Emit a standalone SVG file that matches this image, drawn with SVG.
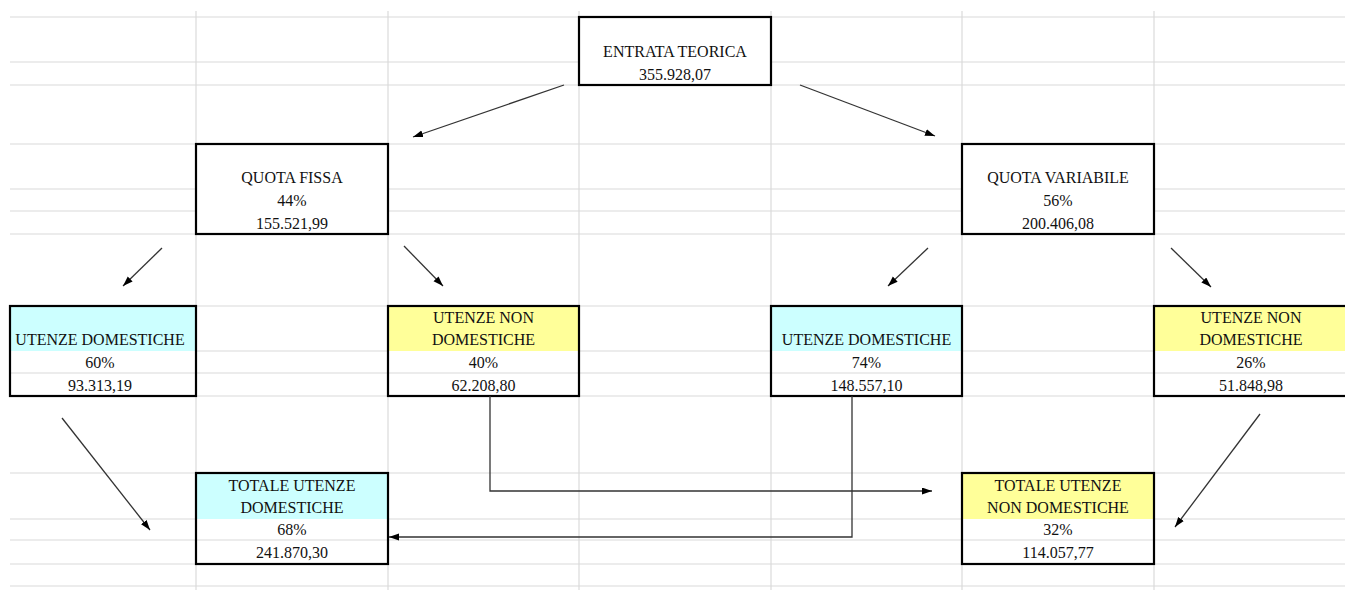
<svg xmlns="http://www.w3.org/2000/svg" width="1345" height="590" viewBox="0 0 1345 590">
<style>
.grid line{stroke:#dadada;stroke-width:1.2}
.box{fill:#fff;stroke:#000;stroke-width:2.2}
.frame{fill:none;stroke:#000;stroke-width:2.2}
.cy{fill:#ccffff}
.ye{fill:#ffff99}
.inner{stroke:#dadada;stroke-width:1.2}
text{font-family:"Liberation Serif","Times New Roman",serif;font-size:16px;fill:#111;text-anchor:middle}
.conn line,.conn path{stroke:#333;stroke-width:1.3;fill:none}
</style>
<defs>
<marker id="ah" markerUnits="userSpaceOnUse" markerWidth="11" markerHeight="8" refX="10" refY="3.5" orient="auto">
<path d="M0,0 L10,3.5 L0,7 z" fill="#000"/>
</marker>
</defs>
<rect width="1345" height="590" fill="#fff"/>
<g class="grid">
<line x1="196" y1="11" x2="196" y2="590"/>
<line x1="388" y1="11" x2="388" y2="590"/>
<line x1="579" y1="11" x2="579" y2="590"/>
<line x1="771" y1="11" x2="771" y2="590"/>
<line x1="962" y1="11" x2="962" y2="590"/>
<line x1="1154" y1="11" x2="1154" y2="590"/>
<line x1="10" y1="17" x2="1345" y2="17"/>
<line x1="10" y1="62" x2="1345" y2="62"/>
<line x1="10" y1="85" x2="1345" y2="85"/>
<line x1="10" y1="144" x2="1345" y2="144"/>
<line x1="10" y1="189" x2="1345" y2="189"/>
<line x1="10" y1="211" x2="1345" y2="211"/>
<line x1="10" y1="234" x2="1345" y2="234"/>
<line x1="10" y1="306" x2="1345" y2="306"/>
<line x1="10" y1="351" x2="1345" y2="351"/>
<line x1="10" y1="373" x2="1345" y2="373"/>
<line x1="10" y1="396" x2="1345" y2="396"/>
<line x1="10" y1="473" x2="1345" y2="473"/>
<line x1="10" y1="519" x2="1345" y2="519"/>
<line x1="10" y1="540" x2="1345" y2="540"/>
<line x1="10" y1="564" x2="1345" y2="564"/>
<line x1="10" y1="586" x2="1345" y2="586"/>
</g>
<g id="entrata">
<rect class="box" x="579" y="17" width="192" height="68"/>
<text x="675" y="57">ENTRATA TEORICA</text>
<text x="675" y="80">355.928,07</text>
</g>
<g id="quota-fissa">
<rect class="box" x="196" y="144" width="192" height="90"/>
<text x="292" y="183">QUOTA FISSA</text>
<text x="292" y="206">44%</text>
<text x="292" y="229">155.521,99</text>
</g>
<g id="quota-variabile">
<rect class="box" x="962" y="144" width="192" height="90"/>
<text x="1058" y="183">QUOTA VARIABILE</text>
<text x="1058" y="206">56%</text>
<text x="1058" y="229">200.406,08</text>
</g>
<g id="ud-fissa">
<rect x="10" y="306" width="186" height="90" fill="#fff"/>
<rect class="cy" x="10" y="306" width="186" height="45"/>
<line class="inner" x1="10" y1="373" x2="196" y2="373"/>
<rect class="frame" x="10" y="306" width="186" height="90"/>
<text x="100" y="345">UTENZE DOMESTICHE</text>
<text x="100" y="368">60%</text>
<text x="100" y="391">93.313,19</text>
</g>
<g id="und-fissa">
<rect x="388" y="306" width="191" height="90" fill="#fff"/>
<rect class="ye" x="388" y="306" width="191" height="45"/>
<line class="inner" x1="388" y1="373" x2="579" y2="373"/>
<rect class="frame" x="388" y="306" width="191" height="90"/>
<text x="483.5" y="323">UTENZE NON</text>
<text x="483.5" y="345">DOMESTICHE</text>
<text x="483.5" y="368">40%</text>
<text x="483.5" y="391">62.208,80</text>
</g>
<g id="ud-variabile">
<rect x="771" y="306" width="191" height="90" fill="#fff"/>
<rect class="cy" x="771" y="306" width="191" height="45"/>
<line class="inner" x1="771" y1="373" x2="962" y2="373"/>
<rect class="frame" x="771" y="306" width="191" height="90"/>
<text x="866.5" y="345">UTENZE DOMESTICHE</text>
<text x="866.5" y="368">74%</text>
<text x="866.5" y="391">148.557,10</text>
</g>
<g id="und-variabile">
<rect x="1154" y="306" width="193" height="90" fill="#fff"/>
<rect class="ye" x="1154" y="306" width="193" height="45"/>
<line class="inner" x1="1154" y1="373" x2="1347" y2="373"/>
<rect class="frame" x="1154" y="306" width="193" height="90"/>
<text x="1251" y="323">UTENZE NON</text>
<text x="1251" y="345">DOMESTICHE</text>
<text x="1251" y="368">26%</text>
<text x="1251" y="391">51.848,98</text>
</g>
<g id="totale-ud">
<rect x="196" y="473" width="192" height="91" fill="#fff"/>
<rect class="cy" x="196" y="473" width="192" height="46"/>
<line class="inner" x1="196" y1="540" x2="388" y2="540"/>
<rect class="frame" x="196" y="473" width="192" height="91"/>
<text x="292" y="491">TOTALE UTENZE</text>
<text x="292" y="513">DOMESTICHE</text>
<text x="292" y="535">68%</text>
<text x="292" y="558">241.870,30</text>
</g>
<g id="totale-und">
<rect x="962" y="473" width="192" height="91" fill="#fff"/>
<rect class="ye" x="962" y="473" width="192" height="46"/>
<line class="inner" x1="962" y1="540" x2="1154" y2="540"/>
<rect class="frame" x="962" y="473" width="192" height="91"/>
<text x="1058" y="491">TOTALE UTENZE</text>
<text x="1058" y="513">NON DOMESTICHE</text>
<text x="1058" y="535">32%</text>
<text x="1058" y="558">114.057,77</text>
</g>
<g class="conn">
<line x1="564" y1="85" x2="413" y2="137" marker-end="url(#ah)"/>
<line x1="800" y1="85" x2="935" y2="136" marker-end="url(#ah)"/>
<line x1="162" y1="248" x2="123" y2="286" marker-end="url(#ah)"/>
<line x1="404" y1="246" x2="443" y2="286" marker-end="url(#ah)"/>
<line x1="928" y1="248" x2="888" y2="286" marker-end="url(#ah)"/>
<line x1="1171" y1="248" x2="1211" y2="287" marker-end="url(#ah)"/>
<line x1="62" y1="418" x2="150" y2="530" marker-end="url(#ah)"/>
<line x1="1260" y1="414" x2="1175" y2="527" marker-end="url(#ah)"/>
<path d="M490,396 V491 H932" marker-end="url(#ah)"/>
<path d="M852,396 V537 H389" marker-end="url(#ah)"/>
</g>
</svg>
